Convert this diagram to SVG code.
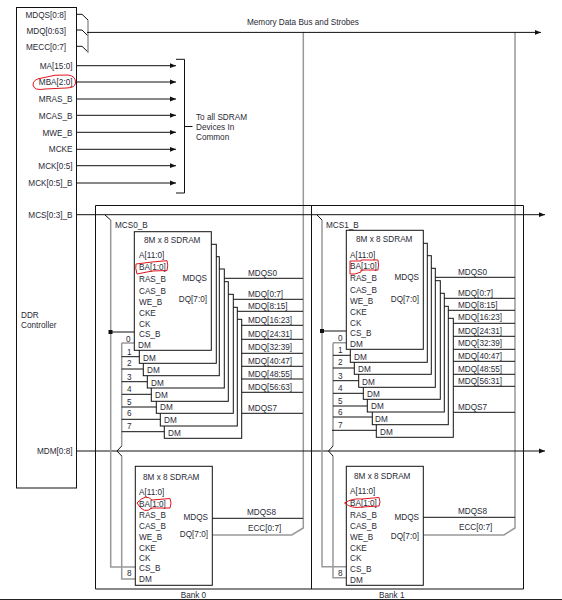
<svg xmlns="http://www.w3.org/2000/svg" width="562" height="600" viewBox="0 0 562 600">
<style>
text{font-family:"Liberation Sans",Arial,sans-serif;font-size:8.2px;fill:#2a2a35}
.e{text-anchor:end}.m{text-anchor:middle}
.k{fill:none;stroke:#111;stroke-width:1}
.g{fill:none;stroke:#999;stroke-width:1.5}
.c{fill:#fff;stroke:#111;stroke-width:1}
.r{fill:none;stroke:#e0141e;stroke-width:1}
</style>
<defs>
<marker id="a" markerUnits="userSpaceOnUse" markerWidth="7" markerHeight="6" refX="6.5" refY="3" orient="auto"><path d="M0 0.4L6.5 3L0 5.6z" fill="#111"/></marker>
</defs>
<rect width="562" height="600" fill="#fff"/>
<g id="connectors">
<path class="g" d="M303.3 32V528L291.7 535H212.5M515 32V528L504 535H423.5"/>
<path class="k" d="M77 14.3H82L88 20M77 30H82L88 36M77 46.3H82L88 52"/>
<path class="g" d="M88 20V53"/>
<path class="k" marker-end="url(#a)" d="M87 32.4H541"/>
<path class="k" d="M76.5 65.7H176" marker-end="url(#a)"/><path class="k" d="M76.5 82H176" marker-end="url(#a)"/><path class="k" d="M76.5 99H176" marker-end="url(#a)"/><path class="k" d="M76.5 115.3H176" marker-end="url(#a)"/><path class="k" d="M76.5 132.3H176" marker-end="url(#a)"/><path class="k" d="M76.5 149.3H176" marker-end="url(#a)"/><path class="k" d="M76.5 165.7H176" marker-end="url(#a)"/><path class="k" d="M76.5 183H176" marker-end="url(#a)"/>
<path class="k" d="M176 59.3H184.5V193H176M184.5 126.5H192.5"/>
<path class="k" marker-end="url(#a)" d="M76.5 214.7H545"/>
<path class="k" marker-end="url(#a)" d="M76.5 451H545"/>
<path class="k" d="M95.5 205.5H523.5V589H95.5ZM311.5 205.5V589"/>
<path class="g" d="M110.7 220V567H136M121.7 343V446M121.7 456V579H136"/>
<path class="g" d="M322 220V566.7H347M333 343V446M333 456V577.7H347"/>
<path class="k" d="M105 215L110.7 220M317 215L322 220M121.7 446L117 451L121.7 456M333 446L328.5 451L333 456"/>
<path class="k" d="M110.7 332H134.5M322 331H346.5"/>
<rect x="108.5" y="330" width="4" height="4" fill="#111"/><rect x="320" y="329" width="4" height="4" fill="#111"/>
<path class="k" d="M121.7 356.7H140M121.7 369H144M121.7 381.7H148M121.7 394.3H152M121.7 407H157M121.7 419.3H161M121.7 431.7H165"/>
<path class="k" d="M333 355.3H351M333 368H355M333 380.7H359M333 393.3H364M333 406H368M333 417H373M332 430.3H377"/>
<path class="g" d="M121.7 343H134.5M333 342.7H346.5"/>
<path class="k" d="M211 278.3H303M211 299.3H303M216.3 311.3H303M219.3 325.3H303M224.3 339.3H303M228.3 353.3H303M233.3 366.3H303M237.3 379H303M241.7 392.3H303M241.7 413.3H303"/>
<path class="k" d="M423 277.3H515M423 298.3H515M427.3 310.3H515M431.3 323.3H515M435.3 336.3H515M440.3 349.3H515M444.3 361.3H515M448.3 374.3H515M453.3 386.3H515M453.3 412.3H515"/>
<path class="k" d="M212 518.3H303M423 517.3H515"/>
</g>
<g id="controller">
<rect class="k" x="16.5" y="7.5" width="60" height="480.5"/>
<text class="e" x="66" y="18">MDQS[0:8]</text><text class="e" x="66" y="33.5">MDQ[0:63]</text><text class="e" x="66" y="49.5">MECC[0:7]</text>
<text class="e" x="72.5" y="69">MA[15:0]</text><text class="e" x="72.5" y="85">MBA[2:0]</text><text class="e" x="72.5" y="101.5">MRAS_B</text><text class="e" x="72.5" y="119">MCAS_B</text><text class="e" x="72.5" y="136">MWE_B</text><text class="e" x="72.5" y="152">MCKE</text><text class="e" x="72.5" y="169">MCK[0:5]</text><text class="e" x="72.5" y="186">MCK[0:5]_B</text>
<text class="e" x="72.5" y="218">MCS[0:3]_B</text><text class="e" x="72.5" y="454">MDM[0:8]</text>
<text x="21" y="318">DDR</text><text x="21" y="328">Controller</text>
<path class="r" d="M33 85Q33 79 42 78Q55 74 68 75Q76 76 75.5 83Q75 88 66 88L45 89Q34 91 33 85Z"/>
</g>
<g id="labels">
<text x="247" y="25">Memory Data Bus and Strobes</text>
<text x="196" y="120">To all SDRAM</text><text x="196" y="130">Devices In</text><text x="196" y="140">Common</text>
<text x="115" y="228">MCS0_B</text><text x="326" y="228">MCS1_B</text>
<text x="180.7" y="598">Bank 0</text><text x="379" y="598">Bank 1</text>
</g>
<g id="bank0-stack">
<rect class="c" x="164.3" y="319.3" width="77.4" height="119"/><rect class="c" x="160.3" y="307.3" width="77" height="118.7"/><rect class="c" x="156.3" y="294.3" width="77" height="119"/><rect class="c" x="151.3" y="281.7" width="77" height="119.6"/><rect class="c" x="147.3" y="269" width="77" height="119"/><rect class="c" x="143.3" y="256.7" width="76" height="119"/><rect class="c" x="139.3" y="244.3" width="77" height="119"/><rect class="c" x="134.3" y="231.7" width="77" height="118.6"/>
<text x="138" y="348">DM</text><text x="143" y="361">DM</text><text x="147" y="373">DM</text><text x="151" y="386">DM</text><text x="155" y="398">DM</text><text x="160" y="410">DM</text><text x="164" y="423">DM</text><text x="168" y="436">DM</text>
<text x="144" y="243">8M x 8 SDRAM</text><text x="139" y="258">A[11:0]</text><text x="139" y="270">BA[1:0]</text><text x="139" y="282">RAS_B</text><text x="139" y="294">CAS_B</text><text x="139" y="305">WE_B</text><text x="139" y="316">CKE</text><text x="139" y="327">CK</text><text x="139" y="337">CS_B</text>
<text class="e" x="207" y="281">MDQS</text><text class="e" x="207" y="302">DQ[7:0]</text>
<text x="126" y="342">0</text><text x="127" y="355">1</text><text x="127" y="366">2</text><text x="127" y="380">3</text><text x="127" y="392">4</text><text x="127" y="405">5</text><text x="127" y="416">6</text><text x="127" y="429">7</text>
<text x="248" y="276">MDQS0</text><text x="248" y="297">MDQ[0:7]</text><text x="248" y="309">MDQ[8:15]</text><text x="248" y="323">MDQ[16:23]</text><text x="248" y="337">MDQ[24:31]</text><text x="248" y="350">MDQ[32:39]</text><text x="248" y="364">MDQ[40:47]</text><text x="248" y="377">MDQ[48:55]</text><text x="248" y="390">MDQ[56:63]</text><text x="248" y="411">MDQS7</text>
<path class="r" d="M136 264L152 262L167 260.7Q168.5 265 167 270.5L152 271L137 274Q135 268 136 264Z"/>
</g>
<g id="bank1-stack">
<rect class="c" x="376.3" y="318.3" width="77" height="119"/><rect class="c" x="372.3" y="306.3" width="76" height="118.4"/><rect class="c" x="367.3" y="293.3" width="77" height="118.7"/><rect class="c" x="363.3" y="280.7" width="77" height="118.6"/><rect class="c" x="358.7" y="268.3" width="76.6" height="119"/><rect class="c" x="354.3" y="255.7" width="77" height="118.6"/><rect class="c" x="350.3" y="243.3" width="77" height="119"/><rect class="c" x="346.3" y="230.3" width="77" height="119"/>
<text x="350" y="347">DM</text><text x="354" y="360">DM</text><text x="358" y="372">DM</text><text x="362" y="385">DM</text><text x="367" y="397">DM</text><text x="371" y="409">DM</text><text x="375" y="422">DM</text><text x="380" y="435">DM</text>
<text x="356" y="242">8M x 8 SDRAM</text><text x="350" y="258">A[11:0]</text><text x="350" y="269">BA[1:0]</text><text x="350" y="281">RAS_B</text><text x="350" y="293">CAS_B</text><text x="350" y="304">WE_B</text><text x="350" y="315">CKE</text><text x="350" y="326">CK</text><text x="350" y="336">CS_B</text>
<text class="e" x="419" y="280">MDQS</text><text class="e" x="419" y="302">DQ[7:0]</text>
<text x="338" y="341">0</text><text x="338" y="353">1</text><text x="338" y="365">2</text><text x="338" y="379">3</text><text x="338" y="391">4</text><text x="338" y="404">5</text><text x="338" y="415">6</text><text x="338" y="428">7</text>
<text x="458" y="275">MDQS0</text><text x="458" y="296">MDQ[0:7]</text><text x="458" y="308">MDQ[8:15]</text><text x="458" y="320">MDQ[16:23]</text><text x="458" y="334">MDQ[24:31]</text><text x="458" y="346">MDQ[32:39]</text><text x="458" y="359">MDQ[40:47]</text><text x="458" y="372">MDQ[48:55]</text><text x="458" y="384">MDQ[56:31]</text><text x="458" y="410">MDQS7</text>
<path class="r" d="M350 261H361V260H378Q379 265 378 270H361V272L355 274H350Z"/>
</g>
<g id="chip8-bank0">
<rect class="c" x="135.3" y="466.3" width="77" height="119"/>
<text x="143" y="480">8M x 8 SDRAM</text><text x="139" y="495">A[11:0]</text><text x="139" y="507">BA[1:0]</text><text x="139" y="518">RAS_B</text><text x="139" y="529">CAS_B</text><text x="139" y="540">WE_B</text><text x="139" y="551">CKE</text><text x="139" y="561">CK</text><text x="139" y="571">CS_B</text><text x="139" y="582">DM</text>
<text class="e" x="208" y="520">MDQS</text><text class="e" x="208" y="537">DQ[7:0]</text>
<text x="127" y="576">8</text><text x="247" y="515">MDQS8</text><text x="248" y="531">ECC[0:7]</text>
<path class="r" d="M137 503Q146 493 152 500L170 498.5Q172 503 170 508H152Q144 515 137 503Z"/>
</g>
<g id="chip8-bank1">
<rect class="c" x="346.3" y="466.3" width="77" height="119"/>
<text x="354" y="479">8M x 8 SDRAM</text><text x="350" y="494">A[11:0]</text><text x="350" y="506">BA[1:0]</text><text x="350" y="518">RAS_B</text><text x="350" y="529">CAS_B</text><text x="350" y="540">WE_B</text><text x="350" y="551">CKE</text><text x="350" y="561">CK</text><text x="350" y="572">CS_B</text><text x="350" y="583">DM</text>
<text class="e" x="419" y="520">MDQS</text><text class="e" x="419" y="539">DQ[7:0]</text>
<text x="338" y="576">8</text><text x="458" y="514">MDQS8</text><text x="459" y="530">ECC[0:7]</text>
<path class="r" d="M344.5 503Q352 498 362 499L379 497.5Q381 502 379 506L362 507Q352 509 344.5 503Z"/>
</g>
<rect x="0" y="599" width="562" height="1" fill="#222"/>
</svg>
